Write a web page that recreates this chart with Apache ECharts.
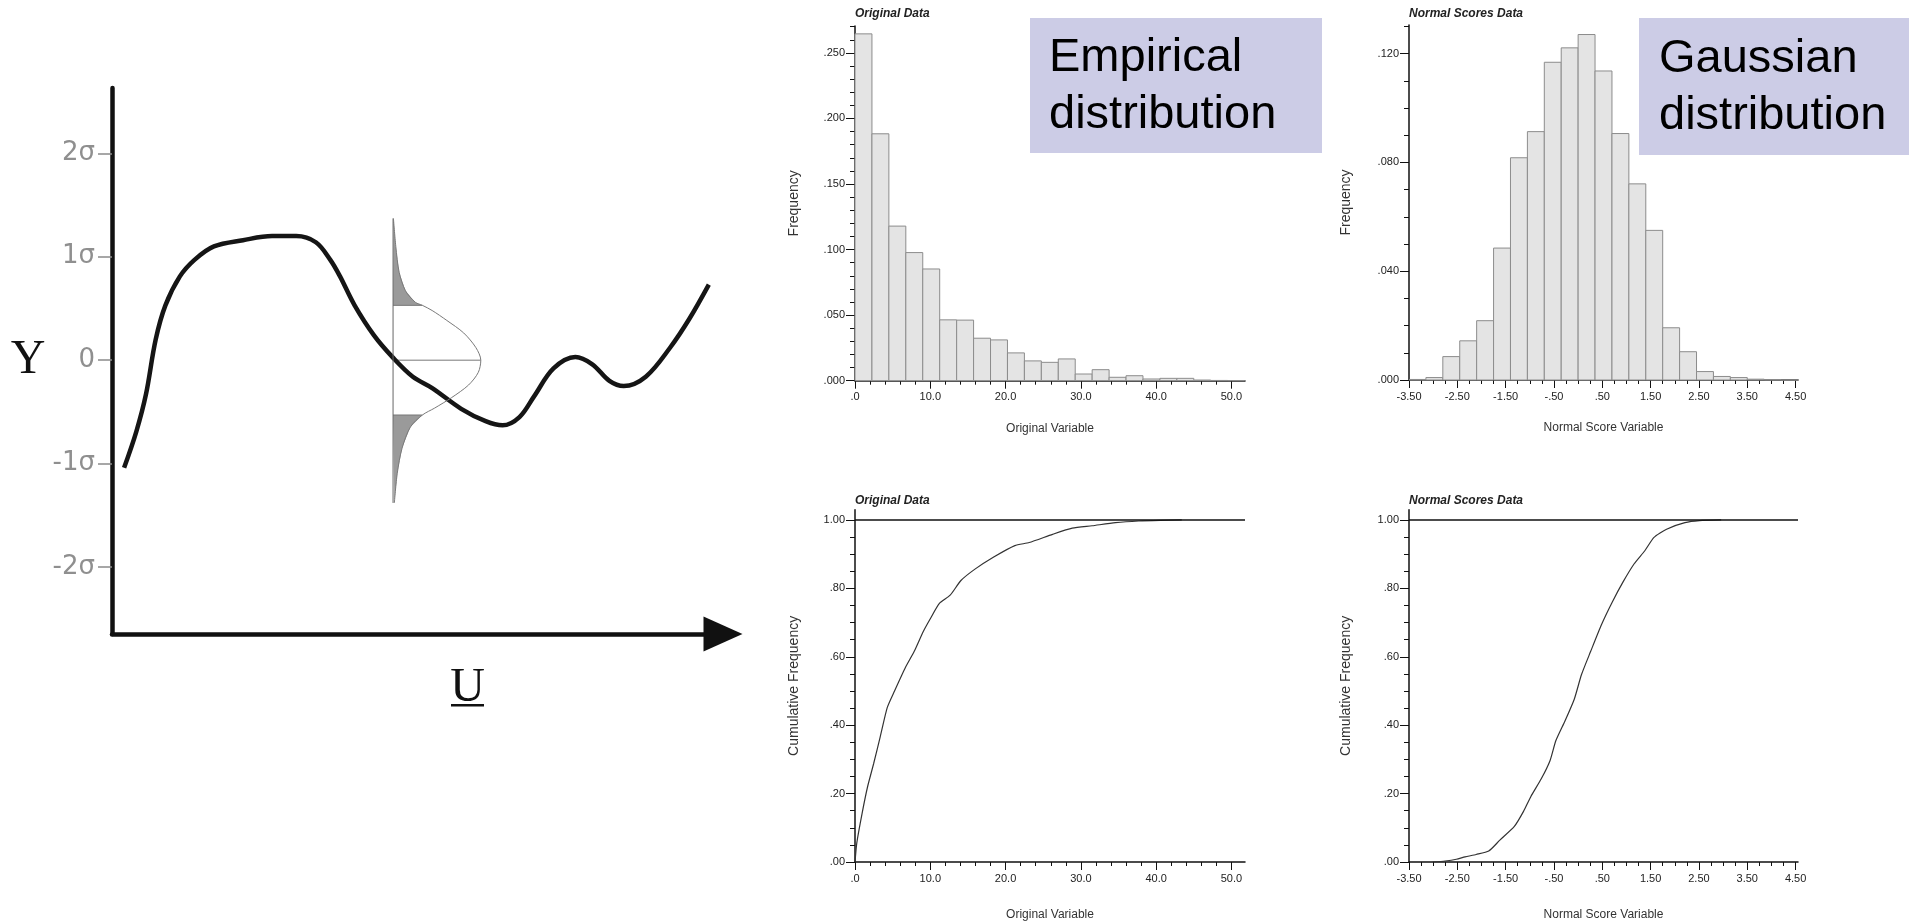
<!DOCTYPE html>
<html>
<head>
    <meta charset="UTF-8">
    <title>Normal score transform</title>
    <script src="https://cdn.jsdelivr.net/npm/echarts@6.0.0/dist/echarts.min.js"></script>
    <style>
        html, body { margin: 0; padding: 0; background: #fff; }
        #chart { width: 1909px; height: 923px; }
    </style>
</head>
<body>
    <div id="chart"></div>

    <script>
        // ---- left sketch: random function Y(u) in sigma units ----
        const sigmaTicks = [-2, -1, 0, 1, 2];
        const curveU = [1.98, 3.98, 5.56, 7.15, 8.74, 11.11, 13.5, 16.68, 21.44, 26.2, 30.16, 33.36, 35.73, 37.32, 39.71, 42.88, 46.06, 49.23, 52.41, 57.15, 61.15, 63.93, 66.69, 69.08, 72.26, 75.84, 78.61, 81.41, 83.76, 87.36, 91.33, 94.5, 97.68];
        const curveS = [-1.04, -0.69, -0.33, 0.2, 0.53, 0.81, 0.97, 1.1, 1.16, 1.2, 1.2, 1.14, 0.97, 0.81, 0.53, 0.24, 0.02, -0.16, -0.27, -0.47, -0.59, -0.63, -0.55, -0.35, -0.08, 0.03, -0.04, -0.2, -0.25, -0.16, 0.12, 0.4, 0.73];

        // local gaussian drawn at one location
        const bellBase = 46.0;
        const bellU = [46.06, 46.45, 47.0, 48.04, 49.64, 50.8, 52.4, 54.8, 57.56, 59.56, 60.36, 59.95, 58.36, 55.58, 52.81, 50.8, 48.84, 47.48, 46.69, 46.21];
        const bellS = [1.37, 1.1, 0.85, 0.67, 0.56, 0.53, 0.48, 0.384, 0.263, 0.121, 0, -0.118, -0.24, -0.362, -0.463, -0.53, -0.646, -0.85, -1.093, -1.38];
        const cutLevels = [0.53, 0, -0.53];

        // ---- histograms ----
        const origEdges = [0, 2.25, 4.5, 6.75, 9.0, 11.25, 13.5, 15.75, 18.0, 20.25, 22.5, 24.75, 27.0, 29.25, 31.5, 33.75, 36.0, 38.25, 40.5, 42.75, 45.0, 47.25, 49.5, 51.75];
        const origFreq = [0.2645, 0.1883, 0.1179, 0.0977, 0.0852, 0.0464, 0.0462, 0.0324, 0.0311, 0.0212, 0.0151, 0.014, 0.0166, 0.0051, 0.0084, 0.0026, 0.0038, 0.0013, 0.0018, 0.0018, 0.0005, 0.0002, 0.0001];
        const normEdges = [-3.5, -3.15, -2.8, -2.45, -2.1, -1.75, -1.4, -1.05, -0.7, -0.35, 0, 0.35, 0.7, 1.05, 1.4, 1.75, 2.1, 2.45, 2.8, 3.15, 3.5, 3.85, 4.2, 4.55];
        const normFreq = [0.0002, 0.0009, 0.0086, 0.0144, 0.0218, 0.0485, 0.0817, 0.0913, 0.1168, 0.1221, 0.127, 0.1136, 0.0906, 0.0721, 0.055, 0.0192, 0.0104, 0.0031, 0.0013, 0.0009, 0.0003, 0.0001, 0];

        // ---- cumulative curves ----
        const cdfOrigX = [0, 0.24, 0.95, 1.67, 2.48, 3.34, 4.29, 5.25, 6.68, 7.87, 9.07, 10.02, 11.21, 12.64, 14.07, 15.98, 18.37, 21.23, 23.14, 26.24, 28.86, 31.49, 34.59, 37.69, 40.55, 43.4];
        const cdfOrigF = [0, 0.056, 0.143, 0.22, 0.288, 0.365, 0.452, 0.5, 0.568, 0.616, 0.674, 0.712, 0.756, 0.78, 0.823, 0.857, 0.891, 0.925, 0.934, 0.958, 0.976, 0.983, 0.992, 0.997, 0.999, 1.0];
        const cdfNormX = [-3.01, -2.75, -2.52, -2.34, -2.11, -1.85, -1.62, -1.32, -1.13, -0.98, -0.76, -0.58, -0.46, -0.27, -0.08, 0.07, 0.26, 0.48, 0.71, 0.93, 1.16, 1.38, 1.57, 1.83, 2.21, 2.51, 2.96];
        const cdfNormF = [0, 0.003, 0.008, 0.015, 0.022, 0.032, 0.064, 0.104, 0.148, 0.191, 0.244, 0.297, 0.355, 0.413, 0.476, 0.548, 0.616, 0.693, 0.761, 0.819, 0.872, 0.91, 0.949, 0.973, 0.992, 0.998, 1.0];

        // tick labels
        const origTicks = [0, 10, 20, 30, 40, 50];
        const normTicks = [-3.5, -2.5, -1.5, -0.5, 0.5, 1.5, 2.5, 3.5, 4.5];
        const freqTicks1 = [0, 0.05, 0.1, 0.15, 0.2, 0.25];
        const freqTicks2 = [0, 0.04, 0.08, 0.12];
        const cumTicks = [0, 0.2, 0.4, 0.6, 0.8, 1.0];

        const zip = (a, b) => a.map((v, i) => [v, b[i]]);
        const noLead = (s) => s.replace(/^(-?)0\./, '$1.');

        const chart = echarts.init(document.getElementById('chart'));

        const axisFont = { fontFamily: 'Liberation Sans', fontSize: 11, color: '#222' };
        const nameFont = { fontFamily: 'Liberation Sans', color: '#333' };

        // one numeric axis of the small charts
        function numAxis(grid, min, max, interval, minorSplit, ticks, fmt, isX, name, nameGap, nameSize) {
            return {
                type: 'value', gridIndex: grid, min: min, max: max, interval: interval,
                axisLine: { show: true, onZero: false, lineStyle: { color: '#111', width: 1.5 } },
                axisTick: { show: true, customValues: ticks, length: isX ? 8 : 9, lineStyle: { color: '#111', width: 1 } },
                minorTick: { show: true, splitNumber: minorSplit, length: isX ? 4 : 5, lineStyle: { color: '#111', width: 1 } },
                axisLabel: Object.assign({ customValues: ticks, formatter: fmt, margin: isX ? 11 : 10 }, axisFont),
                splitLine: { show: false },
                minorSplitLine: { show: false },
                name: name, nameLocation: 'middle', nameGap: nameGap,
                nameTextStyle: Object.assign({ fontSize: nameSize }, nameFont)
            };
        }

        const fmtOrig = v => v === 0 ? '.0' : v.toFixed(1);
        const fmtNorm = v => noLead(v.toFixed(2));
        const fmtF3 = v => noLead(v.toFixed(3));
        const fmtF2 = v => noLead(v.toFixed(2));

        function histSeries(edges, freq, xi) {
            return {
                type: 'custom', xAxisIndex: xi, yAxisIndex: xi, silent: true,
                data: freq.map((f, i) => [edges[i], edges[i + 1], f]),
                encode: { x: [0, 1], y: 2 },
                renderItem: function (params, api) {
                    const p0 = api.coord([api.value(0), api.value(2)]);
                    const p1 = api.coord([api.value(1), 0]);
                    return {
                        type: 'rect',
                        shape: { x: p0[0], y: p0[1], width: p1[0] - p0[0], height: p1[1] - p0[1] },
                        style: { fill: '#e4e4e4', stroke: '#8c8c8c', lineWidth: 1 }
                    };
                }
            };
        }

        function cdfSeries(xs, fs, xi) {
            return {
                type: 'line', xAxisIndex: xi, yAxisIndex: xi, silent: true,
                data: zip(xs, fs), symbol: 'none', smooth: 0.2,
                lineStyle: { color: '#333', width: 1.2 },
                markLine: {
                    silent: true, symbol: 'none', label: { show: false },
                    lineStyle: { color: '#111', width: 1.5, type: 'solid' },
                    data: [{ yAxis: 1 }]
                }
            };
        }

        // tails of the local gaussian, built from the bell points
        const bellPts = zip(bellU, bellS);
        const tailTop = bellPts.filter(p => p[1] >= cutLevels[0]).concat([[bellBase, cutLevels[0]]]);
        const tailBot = [[bellBase, cutLevels[2]]].concat(bellPts.filter(p => p[1] <= cutLevels[2]));

        const option = {
            animation: false,
            backgroundColor: '#fff',
            title: [
                { text: 'Original Data', left: 855, top: 8 },
                { text: 'Normal Scores Data', left: 1409, top: 8 },
                { text: 'Original Data', left: 855, top: 495 },
                { text: 'Normal Scores Data', left: 1409, top: 495 }
            ].map(t => Object.assign(t, {
                padding: 0,
                textStyle: { fontFamily: 'Liberation Sans', fontSize: 12, fontStyle: 'italic', fontWeight: 'bold', color: '#222' }
            })),
            grid: [
                { left: 112, top: 88, width: 611, height: 546 },
                { left: 855, top: 26, width: 390, height: 354.7 },
                { left: 1409, top: 25, width: 389, height: 355 },
                { left: 855, top: 509.7, width: 390, height: 352.3 },
                { left: 1409, top: 509.7, width: 389, height: 352.3 }
            ],
            xAxis: [
                {
                    type: 'value', gridIndex: 0, min: 0, max: 100,
                    axisLine: { show: true, onZero: false, symbol: ['none', 'triangle'], symbolSize: [35, 39],
                        lineStyle: { color: '#111', width: 4.5 } },
                    axisTick: { show: false }, axisLabel: { show: false }, splitLine: { show: false }
                },
                numAxis(1, 0, 51.8, 10, 5, origTicks, fmtOrig, true, 'Original Variable', 42, 12),
                numAxis(2, -3.5, 4.55, 1, 4, normTicks, fmtNorm, true, 'Normal Score Variable', 42, 12),
                numAxis(3, 0, 51.8, 10, 5, origTicks, fmtOrig, true, 'Original Variable', 47, 12),
                numAxis(4, -3.5, 4.55, 1, 4, normTicks, fmtNorm, true, 'Normal Score Variable', 47, 12)
            ],
            yAxis: [
                {
                    type: 'value', gridIndex: 0, min: -2.647, max: 2.631,
                    axisLine: { show: true, onZero: false, lineStyle: { color: '#111', width: 4.5 } },
                    axisTick: { show: true, customValues: sigmaTicks, length: 14, lineStyle: { color: '#8a8a8a', width: 1.5 } },
                    axisLabel: {
                        customValues: sigmaTicks, margin: 17,
                        formatter: v => v === 0 ? '0' : v + 'σ',
                        fontFamily: 'DejaVu Sans', fontSize: 26, color: '#8f8f8f'
                    },
                    splitLine: { show: false }
                },
                numAxis(1, 0, 0.2705, 0.05, 5, freqTicks1, fmtF3, false, 'Frequency', 54, 14),
                numAxis(2, 0, 0.1305, 0.04, 4, freqTicks2, fmtF3, false, 'Frequency', 56, 14),
                numAxis(3, 0, 1.03, 0.2, 4, cumTicks, fmtF2, false, 'Cumulative Frequency', 54, 14),
                numAxis(4, 0, 1.03, 0.2, 4, cumTicks, fmtF2, false, 'Cumulative Frequency', 56, 14)
            ],
            series: [
                {
                    type: 'line', xAxisIndex: 0, yAxisIndex: 0, silent: true,
                    data: zip(curveU, curveS), symbol: 'none', smooth: 0.35,
                    lineStyle: { color: '#151515', width: 4.5 }
                },
                {
                    type: 'custom', xAxisIndex: 0, yAxisIndex: 0, silent: true, data: [[bellBase, 0]],
                    renderItem: function (params, api) {
                        const kids = [tailTop, tailBot].map(t => ({
                            type: 'polygon',
                            shape: { points: t.map(p => api.coord(p)) },
                            style: { fill: '#9a9a9a' }
                        }));
                        cutLevels.forEach(lv => {
                            const end = bellPts.find(p => p[1] === lv);
                            const a = api.coord([bellBase, lv]);
                            const b = api.coord(end);
                            kids.push({ type: 'line', shape: { x1: a[0], y1: a[1], x2: b[0], y2: b[1] },
                                style: { stroke: '#777', lineWidth: 1 } });
                        });
                        return { type: 'group', children: kids };
                    }
                },
                {
                    type: 'line', xAxisIndex: 0, yAxisIndex: 0, silent: true,
                    data: bellPts, symbol: 'none', smooth: 0.3,
                    lineStyle: { color: '#7a7a7a', width: 1 }
                },
                {
                    type: 'line', xAxisIndex: 0, yAxisIndex: 0, silent: true,
                    data: [[bellBase, bellS[0]], [bellBase, bellS[bellS.length - 1]]], symbol: 'none',
                    lineStyle: { color: '#666', width: 1 }
                },
                histSeries(origEdges, origFreq, 1),
                histSeries(normEdges, normFreq, 2),
                cdfSeries(cdfOrigX, cdfOrigF, 3),
                cdfSeries(cdfNormX, cdfNormF, 4)
            ],
            graphic: [
                { type: 'text', x: 28, y: 360, z: 20,
                  style: { text: 'Y', font: '48px "Liberation Serif"', fill: '#111', align: 'center', verticalAlign: 'middle' } },
                { type: 'text', x: 467.5, y: 688, z: 20,
                  style: { text: 'U', font: '48px "Liberation Serif"', fill: '#111', align: 'center', verticalAlign: 'middle' } },
                { type: 'rect', shape: { x: 451, y: 704, width: 33, height: 2.5 }, style: { fill: '#111' }, z: 20 },

                { type: 'rect', shape: { x: 1030, y: 18, width: 292, height: 135 }, style: { fill: '#cccce6' }, z: 20 },
                { type: 'text', x: 1049, y: 30, z: 21,
                  style: { text: 'Empirical\ndistribution', font: '47px "Liberation Sans"', lineHeight: 57, fill: '#000' } },
                { type: 'rect', shape: { x: 1639, y: 18, width: 270, height: 137 }, style: { fill: '#cccce6' }, z: 20 },
                { type: 'text', x: 1659, y: 31, z: 21,
                  style: { text: 'Gaussian\ndistribution', font: '47px "Liberation Sans"', lineHeight: 57, fill: '#000' } }
            ]
        };

        chart.setOption(option);

        window.addEventListener('resize', function () {
            chart.resize();
        });
    </script>
</body>
</html>
